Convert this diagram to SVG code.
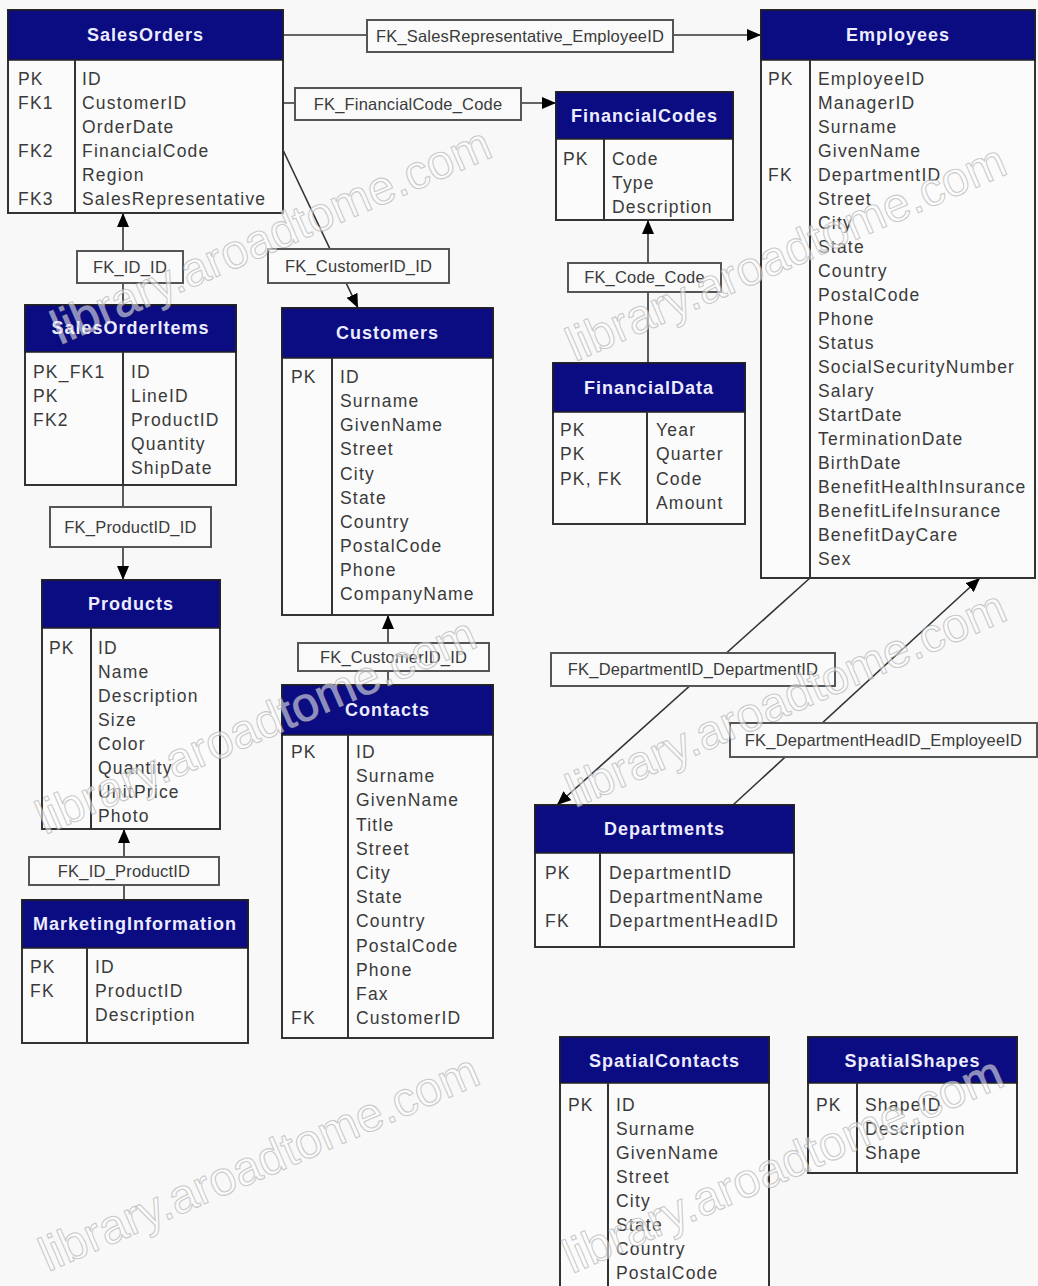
<svg xmlns="http://www.w3.org/2000/svg" width="1038" height="1286" viewBox="0 0 1038 1286">
<defs>
<style>
.bg{fill:#f8f8f8}
.body{fill:#fbfbfb;stroke:#333;stroke-width:2}
.hdr{fill:#0b0b82;stroke:#222;stroke-width:1.5}
.div{stroke:#333;stroke-width:2}
.ht{font-family:"Liberation Sans",Arial,sans-serif;font-size:18px;font-weight:bold;fill:#ececff;text-anchor:middle;letter-spacing:1px}
.k,.f{font-family:"Liberation Sans",Arial,sans-serif;font-size:17.5px;fill:#3a3a3a;letter-spacing:1.2px}
.con{stroke:#333;stroke-width:1.6;fill:none}
.lb{fill:#fafafa;stroke:#555;stroke-width:2}
.lt{font-family:"Liberation Sans",Arial,sans-serif;font-size:16.5px;fill:#3a3a3a;text-anchor:middle;letter-spacing:0.2px}
.wm{font-family:"Liberation Sans",Arial,sans-serif;font-size:48px;fill:#ffffff;fill-opacity:0.55;stroke:#a8a8a8;stroke-width:1.1;stroke-opacity:0.6}
</style>
<marker id="arr" viewBox="0 0 14 12" refX="14" refY="6" markerWidth="14" markerHeight="12" markerUnits="userSpaceOnUse" orient="auto">
<path d="M0,0 L14,6 L0,12 z" fill="#000"/>
</marker>
</defs>
<rect class="bg" x="0" y="0" width="1038" height="1286"/>

<g id="connectors">
<line class="con" x1="283" y1="35" x2="761" y2="35" marker-end="url(#arr)"/>
<line class="con" x1="283" y1="103" x2="556" y2="103" marker-end="url(#arr)"/>
<line class="con" x1="283" y1="150" x2="358" y2="308" marker-end="url(#arr)"/>
<line class="con" x1="123" y1="305" x2="123" y2="213" marker-end="url(#arr)"/>
<line class="con" x1="123" y1="485" x2="123" y2="580" marker-end="url(#arr)"/>
<line class="con" x1="124" y1="900" x2="124" y2="829" marker-end="url(#arr)"/>
<line class="con" x1="388" y1="685" x2="388" y2="615" marker-end="url(#arr)"/>
<line class="con" x1="648" y1="363" x2="648" y2="220" marker-end="url(#arr)"/>
<line class="con" x1="810" y1="578" x2="557" y2="805" marker-end="url(#arr)"/>
<line class="con" x1="733" y1="805" x2="980" y2="578" marker-end="url(#arr)"/>
<rect class="lb" x="367" y="20" width="306" height="32"/><text class="lt" x="520" y="42">FK_SalesRepresentative_EmployeeID</text>
<rect class="lb" x="295" y="88" width="226" height="32"/><text class="lt" x="408" y="110">FK_FinancialCode_Code</text>
<rect class="lb" x="268" y="249" width="181" height="34"/><text class="lt" x="358.5" y="272">FK_CustomerID_ID</text>
<rect class="lb" x="77" y="251" width="106" height="32"/><text class="lt" x="130" y="273">FK_ID_ID</text>
<rect class="lb" x="50" y="507" width="161" height="40"/><text class="lt" x="130.5" y="533">FK_ProductID_ID</text>
<rect class="lb" x="29" y="857" width="190" height="28"/><text class="lt" x="124" y="877">FK_ID_ProductID</text>
<rect class="lb" x="298" y="643" width="191" height="28"/><text class="lt" x="393.5" y="663">FK_CustomerID_ID</text>
<rect class="lb" x="568" y="263" width="153" height="29"/><text class="lt" x="644.5" y="283">FK_Code_Code</text>
<rect class="lb" x="551" y="653" width="284" height="33"/><text class="lt" x="693" y="675">FK_DepartmentID_DepartmentID</text>
<rect class="lb" x="730" y="723" width="307" height="34"/><text class="lt" x="883.5" y="746">FK_DepartmentHeadID_EmployeeID</text>
</g>

<g id="SalesOrders">
<rect class="body" x="8" y="10" width="275" height="203"/>
<rect class="hdr" x="8" y="10" width="275" height="50"/>
<line class="div" x1="75" y1="60" x2="75" y2="213"/>
<text class="ht" x="145.5" y="41">SalesOrders</text>
<text class="k" x="18" y="85">PK</text><text class="k" x="18" y="109">FK1</text><text class="k" x="18" y="157">FK2</text><text class="k" x="18" y="205">FK3</text>
<text class="f" x="82" y="85">ID</text><text class="f" x="82" y="109">CustomerID</text><text class="f" x="82" y="133">OrderDate</text><text class="f" x="82" y="157">FinancialCode</text><text class="f" x="82" y="181">Region</text><text class="f" x="82" y="205">SalesRepresentative</text>
</g>

<g id="Employees">
<rect class="body" x="761" y="10" width="274" height="568"/>
<rect class="hdr" x="761" y="10" width="274" height="50"/>
<line class="div" x1="810" y1="60" x2="810" y2="578"/>
<text class="ht" x="898" y="41">Employees</text>
<text class="k" x="768" y="85">PK</text><text class="k" x="768" y="181">FK</text>
<text class="f" x="818" y="85">EmployeeID</text>
<text class="f" x="818" y="109">ManagerID</text>
<text class="f" x="818" y="133">Surname</text>
<text class="f" x="818" y="157">GivenName</text>
<text class="f" x="818" y="181">DepartmentID</text>
<text class="f" x="818" y="205">Street</text>
<text class="f" x="818" y="229">City</text>
<text class="f" x="818" y="253">State</text>
<text class="f" x="818" y="277">Country</text>
<text class="f" x="818" y="301">PostalCode</text>
<text class="f" x="818" y="325">Phone</text>
<text class="f" x="818" y="349">Status</text>
<text class="f" x="818" y="373">SocialSecurityNumber</text>
<text class="f" x="818" y="397">Salary</text>
<text class="f" x="818" y="421">StartDate</text>
<text class="f" x="818" y="445">TerminationDate</text>
<text class="f" x="818" y="469">BirthDate</text>
<text class="f" x="818" y="493">BenefitHealthInsurance</text>
<text class="f" x="818" y="517">BenefitLifeInsurance</text>
<text class="f" x="818" y="541">BenefitDayCare</text>
<text class="f" x="818" y="565">Sex</text>
</g>

<g id="FinancialCodes">
<rect class="body" x="556" y="92" width="177" height="128"/>
<rect class="hdr" x="556" y="92" width="177" height="47"/>
<line class="div" x1="604" y1="139" x2="604" y2="220"/>
<text class="ht" x="644.5" y="122">FinancialCodes</text>
<text class="k" x="563" y="165">PK</text>
<text class="f" x="612" y="165">Code</text><text class="f" x="612" y="189">Type</text><text class="f" x="612" y="213">Description</text>
</g>

<g id="SalesOrderItems">
<rect class="body" x="25" y="305" width="211" height="180"/>
<rect class="hdr" x="25" y="305" width="211" height="47"/>
<line class="div" x1="123" y1="352" x2="123" y2="485"/>
<text class="ht" x="130.5" y="334">SalesOrderItems</text>
<text class="k" x="33" y="378">PK_FK1</text><text class="k" x="33" y="402">PK</text><text class="k" x="33" y="426">FK2</text>
<text class="f" x="131" y="378">ID</text><text class="f" x="131" y="402">LineID</text><text class="f" x="131" y="426">ProductID</text><text class="f" x="131" y="450">Quantity</text><text class="f" x="131" y="474">ShipDate</text>
</g>

<g id="Customers">
<rect class="body" x="282" y="308" width="211" height="307"/>
<rect class="hdr" x="282" y="308" width="211" height="50"/>
<line class="div" x1="332" y1="358" x2="332" y2="615"/>
<text class="ht" x="387.5" y="339">Customers</text>
<text class="k" x="291" y="383">PK</text>
<text class="f" x="340" y="383">ID</text>
<text class="f" x="340" y="407">Surname</text>
<text class="f" x="340" y="431">GivenName</text>
<text class="f" x="340" y="455">Street</text>
<text class="f" x="340" y="480">City</text>
<text class="f" x="340" y="504">State</text>
<text class="f" x="340" y="528">Country</text>
<text class="f" x="340" y="552">PostalCode</text>
<text class="f" x="340" y="576">Phone</text>
<text class="f" x="340" y="600">CompanyName</text>
</g>

<g id="FinancialData">
<rect class="body" x="553" y="363" width="192" height="161"/>
<rect class="hdr" x="553" y="363" width="192" height="49"/>
<line class="div" x1="647" y1="412" x2="647" y2="524"/>
<text class="ht" x="649" y="394">FinancialData</text>
<text class="k" x="560" y="436">PK</text><text class="k" x="560" y="460">PK</text><text class="k" x="560" y="485">PK, FK</text>
<text class="f" x="656" y="436">Year</text><text class="f" x="656" y="460">Quarter</text><text class="f" x="656" y="485">Code</text><text class="f" x="656" y="509">Amount</text>
</g>

<g id="Products">
<rect class="body" x="42" y="580" width="178" height="249"/>
<rect class="hdr" x="42" y="580" width="178" height="48"/>
<line class="div" x1="91" y1="628" x2="91" y2="829"/>
<text class="ht" x="131" y="610">Products</text>
<text class="k" x="49" y="654">PK</text>
<text class="f" x="98" y="654">ID</text>
<text class="f" x="98" y="678">Name</text>
<text class="f" x="98" y="702">Description</text>
<text class="f" x="98" y="726">Size</text>
<text class="f" x="98" y="750">Color</text>
<text class="f" x="98" y="774">Quantity</text>
<text class="f" x="98" y="798">UnitPrice</text>
<text class="f" x="98" y="822">Photo</text>
</g>

<g id="Contacts">
<rect class="body" x="282" y="685" width="211" height="353"/>
<rect class="hdr" x="282" y="685" width="211" height="50"/>
<line class="div" x1="348" y1="735" x2="348" y2="1038"/>
<text class="ht" x="387.5" y="716">Contacts</text>
<text class="k" x="291" y="758">PK</text><text class="k" x="291" y="1024">FK</text>
<text class="f" x="356" y="758">ID</text>
<text class="f" x="356" y="782">Surname</text>
<text class="f" x="356" y="806">GivenName</text>
<text class="f" x="356" y="831">Title</text>
<text class="f" x="356" y="855">Street</text>
<text class="f" x="356" y="879">City</text>
<text class="f" x="356" y="903">State</text>
<text class="f" x="356" y="927">Country</text>
<text class="f" x="356" y="952">PostalCode</text>
<text class="f" x="356" y="976">Phone</text>
<text class="f" x="356" y="1000">Fax</text>
<text class="f" x="356" y="1024">CustomerID</text>
</g>

<g id="MarketingInformation">
<rect class="body" x="22" y="900" width="226" height="143"/>
<rect class="hdr" x="22" y="900" width="226" height="48"/>
<line class="div" x1="87" y1="948" x2="87" y2="1043"/>
<text class="ht" x="135" y="930">MarketingInformation</text>
<text class="k" x="30" y="973">PK</text><text class="k" x="30" y="997">FK</text>
<text class="f" x="95" y="973">ID</text><text class="f" x="95" y="997">ProductID</text><text class="f" x="95" y="1021">Description</text>
</g>

<g id="Departments">
<rect class="body" x="535" y="805" width="259" height="142"/>
<rect class="hdr" x="535" y="805" width="259" height="48"/>
<line class="div" x1="600" y1="853" x2="600" y2="947"/>
<text class="ht" x="664.5" y="835">Departments</text>
<text class="k" x="545" y="879">PK</text><text class="k" x="545" y="927">FK</text>
<text class="f" x="609" y="879">DepartmentID</text><text class="f" x="609" y="903">DepartmentName</text><text class="f" x="609" y="927">DepartmentHeadID</text>
</g>

<g id="SpatialContacts">
<rect class="body" x="560" y="1037" width="209" height="260"/>
<rect class="hdr" x="560" y="1037" width="209" height="46"/>
<line class="div" x1="608" y1="1083" x2="608" y2="1297"/>
<text class="ht" x="664.5" y="1067">SpatialContacts</text>
<text class="k" x="568" y="1111">PK</text>
<text class="f" x="616" y="1111">ID</text>
<text class="f" x="616" y="1135">Surname</text>
<text class="f" x="616" y="1159">GivenName</text>
<text class="f" x="616" y="1183">Street</text>
<text class="f" x="616" y="1207">City</text>
<text class="f" x="616" y="1231">State</text>
<text class="f" x="616" y="1255">Country</text>
<text class="f" x="616" y="1279">PostalCode</text>
</g>

<g id="SpatialShapes">
<rect class="body" x="808" y="1037" width="209" height="136"/>
<rect class="hdr" x="808" y="1037" width="209" height="46"/>
<line class="div" x1="857" y1="1083" x2="857" y2="1173"/>
<text class="ht" x="912.5" y="1067">SpatialShapes</text>
<text class="k" x="816" y="1111">PK</text>
<text class="f" x="865" y="1111">ShapeID</text><text class="f" x="865" y="1135">Description</text><text class="f" x="865" y="1159">Shape</text>
</g>

<g id="watermarks">
<text class="wm" transform="translate(60 345) rotate(-23.5)">library.aroadtome.com</text>
<text class="wm" transform="translate(575 362) rotate(-23.5)">library.aroadtome.com</text>
<text class="wm" transform="translate(45 835) rotate(-23.5)">library.aroadtome.com</text>
<text class="wm" transform="translate(575 808) rotate(-23.5)">library.aroadtome.com</text>
<text class="wm" transform="translate(48 1272) rotate(-23.5)">library.aroadtome.com</text>
<text class="wm" transform="translate(572 1274) rotate(-23.5)">library.aroadtome.com</text>
</g>
</svg>
